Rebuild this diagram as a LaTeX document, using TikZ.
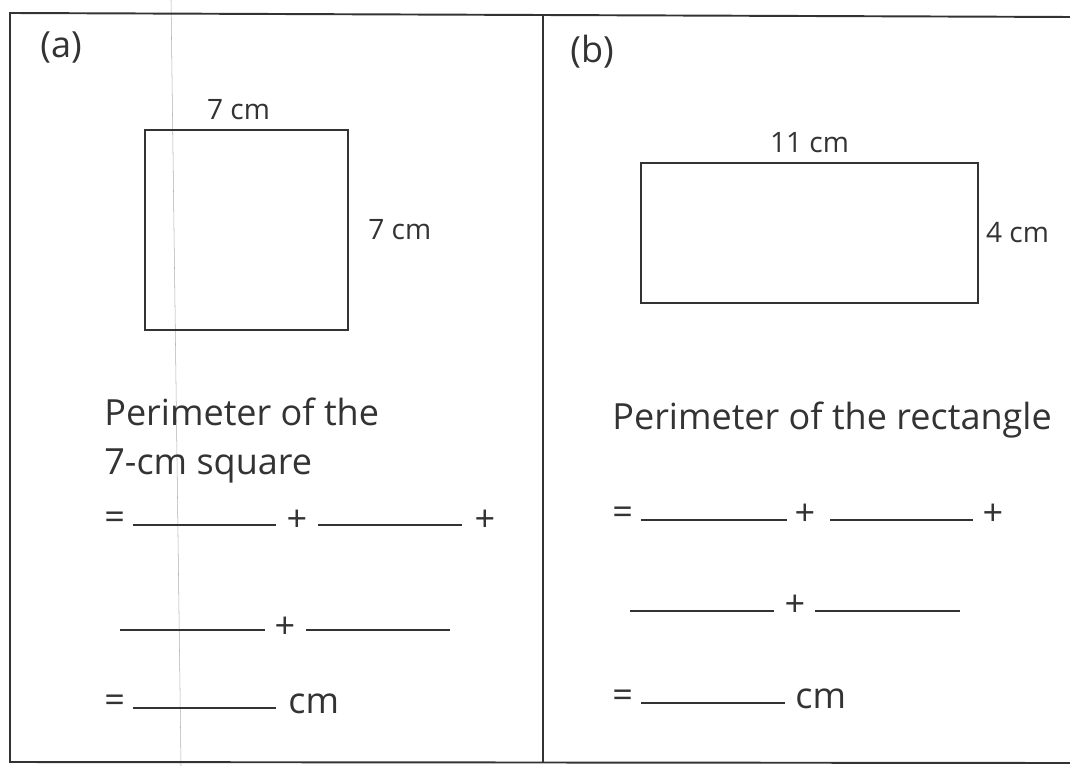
\documentclass[tikz,border=0pt]{standalone}
\usepackage{fontspec}
\setmainfont{Open Sans}
\usetikzlibrary{positioning}
\definecolor{ink}{HTML}{333333}
\tikzset{
    frame line/.style={draw=ink,line width=1.1pt},
    figure box/.style={
        draw=ink,line width=0.8pt,
        inner sep=0pt
    },
    size label/.style={
        text=ink,inner sep=1pt,
        font=\fontsize{16}{19}\selectfont
    },
    prompt/.style={
        text=ink,inner sep=0pt,anchor=west,
        font=\fontsize{20.5}{27.5}\selectfont
    },
    blank/.style={draw=ink,line width=0.6pt}
}

\begin{document}
\begin{tikzpicture}[x=0.02cm,y=-0.02cm]
\useasboundingbox (0,0) rectangle (1070,766);
\fill[white] (0,0) rectangle (1070,766);
% crease of the scanned page
\draw[gray!60,line width=0.3pt] (171,0) -- (181,766);
% frame
\draw[frame line] (1070,17) -- (10,13) -- (10,762) -- (1070,763);
\draw[frame line] (543,15) -- (543,762);

% part (a)
\node[prompt] (tag_a) at (40,47) {(a)};
\node[figure box,minimum width=4.06cm,minimum height=4cm] (sq) at (246.5,230) {};
\node[size label,above=4pt of sq,xshift=-0.16cm] (sq_top) {7 cm};
\node[size label,right=10pt of sq] (sq_side) {7 cm};
\node[prompt,anchor=north west,align=left] (per_a) at (104,398) {Perimeter of the\\7-cm square};

% part (b)
\node[prompt] (tag_b) at (570,52) {(b)};
\node[figure box,minimum width=6.74cm,minimum height=2.8cm] (rect) at (809.5,233) {};
\node[size label,above=4pt of rect] (rect_top) {11 cm};
\node[size label,right=3pt of rect] (rect_side) {4 cm};
\node[prompt] (per_b) at (612,420) {Perimeter of the rectangle};

% answer lines
\foreach \x/\y/\s in {104/521/=,104/704/=,612/516/=,612/699/=}
    \node[prompt] at (\x,\y) {\s};
\foreach \x/\y/\s in {297/521/+,485/521/+,285/628/+,805/515/+,993/515/+,795/606/+}
    \node[prompt,anchor=center] at (\x,\y) {\s};
\foreach \a/\b/\y in {133/276/525,318/462/525,120/265/630,306/450/630,133/276/708,
                      641/787/520,830/973/520,630/774/611,815/960/611,641/785/703}
    \draw[blank] (\a,\y) -- (\b,\y);
\node[prompt] (cm_a) at (288,704) {cm};
\node[prompt] (cm_b) at (795,699) {cm};
\end{tikzpicture}
\end{document}
